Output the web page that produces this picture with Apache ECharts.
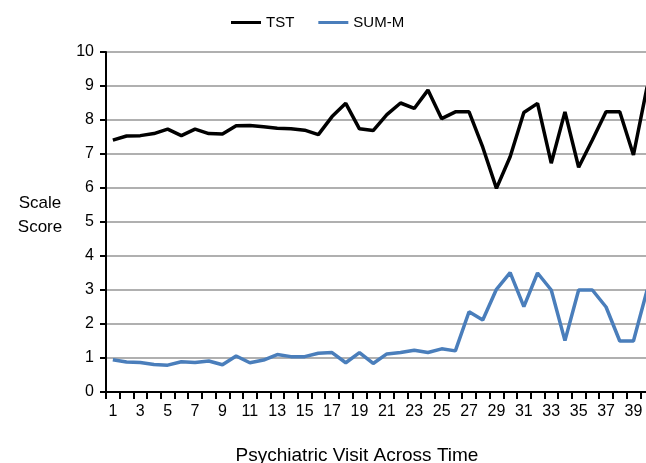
<!DOCTYPE html>
<html>
<head>
<meta charset="utf-8">
<script src="https://cdn.jsdelivr.net/npm/echarts@6/dist/echarts.min.js"></script>
<style>
  html, body { margin: 0; padding: 0; background: #fff; }
  #chart { width: 646px; height: 463px; }
</style>
</head>
<body>
<div id="chart"></div>
<script>
var visits = [];
for (var i = 1; i <= 40; i++) visits.push(String(i));

var tst = [7.41, 7.53, 7.54, 7.6, 7.73, 7.54, 7.73, 7.6, 7.59, 7.83,
           7.84, 7.8, 7.76, 7.74, 7.7, 7.57, 8.1, 8.49, 7.74, 7.69,
           8.16, 8.5, 8.34, 8.88, 8.04, 8.24, 8.24, 7.2, 5.99, 6.92,
           8.22, 8.49, 6.73, 8.24, 6.61, 7.41, 8.24, 8.24, 6.97, 8.98];

var summ = [0.95, 0.88, 0.87, 0.81, 0.79, 0.89, 0.87, 0.91, 0.8, 1.06,
            0.86, 0.94, 1.1, 1.04, 1.04, 1.14, 1.16, 0.86, 1.16, 0.84,
            1.12, 1.16, 1.23, 1.16, 1.27, 1.21, 2.36, 2.12, 3.02, 3.51,
            2.51, 3.5, 3.0, 1.51, 3.0, 3.0, 2.5, 1.5, 1.5, 3.0];

var font = 'Liberation Sans, Arial, sans-serif';

var chart = echarts.init(document.getElementById('chart'));
chart.setOption({
    animation: false,
    textStyle: { fontFamily: font },
    legend: {
        top: 10,
        left: 226,
        itemWidth: 30,
        itemHeight: 3,
        itemGap: 24,
        icon: 'rect',
        textStyle: { fontSize: 15, color: '#000', fontFamily: font },
        data: ['TST', 'SUM-M']
    },
    grid: { left: 106, right: -8, top: 52, bottom: 71, containLabel: false, outerBoundsMode: 'none' },
    graphic: [
        {
            type: 'text',
            x: 40,
            y: 215,
            style: {
                text: 'Scale\nScore',
                fontSize: 17,
                lineHeight: 24,
                fill: '#000',
                align: 'center',
                verticalAlign: 'middle',
                fontFamily: font
            }
        },
        {
            type: 'text',
            x: 357,
            y: 456,
            style: {
                text: 'Psychiatric Visit Across Time',
                fontSize: 19,
                fill: '#000',
                align: 'center',
                verticalAlign: 'middle',
                fontFamily: font
            }
        }
    ],
    xAxis: {
        type: 'category',
        data: visits,
        boundaryGap: true,
        axisLine: { lineStyle: { color: '#000', width: 2 } },
        axisTick: { show: true, alignWithLabel: false, interval: 0, length: 7, lineStyle: { color: '#000', width: 2 } },
        axisLabel: { interval: 1, fontSize: 16, color: '#000', margin: 12 }
    },
    yAxis: {
        type: 'value',
        min: 0,
        max: 10,
        interval: 1,
        axisLine: { show: true, lineStyle: { color: '#000', width: 2 } },
        axisTick: { show: true, length: 6, lineStyle: { color: '#000', width: 2 } },
        axisLabel: { fontSize: 16, color: '#000', margin: 12 },
        splitLine: { lineStyle: { color: '#b0b0b0', width: 2 } }
    },
    series: [
        {
            name: 'TST',
            type: 'line',
            data: tst,
            symbol: 'none',
            itemStyle: { color: '#000' },
            lineStyle: { color: '#000', width: 3.5 }
        },
        {
            name: 'SUM-M',
            type: 'line',
            data: summ,
            symbol: 'none',
            itemStyle: { color: '#4a7ebb' },
            lineStyle: { color: '#4a7ebb', width: 3.5 }
        }
    ]
});
</script>
</body>
</html>
